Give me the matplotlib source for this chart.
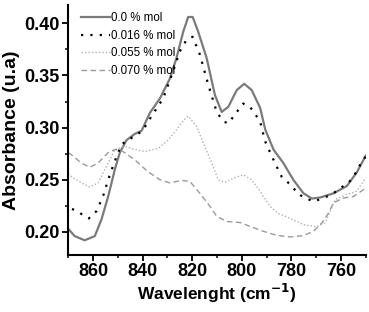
import matplotlib
matplotlib.use("Agg")
import matplotlib.pyplot as plt
from matplotlib.ticker import MultipleLocator

# 0.0 % mol
wl_0 = [870, 867.4, 863.4, 859.3, 856.6, 853.9, 851.2, 849.2, 846.5, 843.1, 840.4,
        837.1, 833, 829, 826.3, 823.6, 821.6, 819.8, 817.6, 814.2, 810.8, 808.1,
        805.4, 802, 799, 796, 792.6, 790.5, 787.2, 783.2, 779.2, 775.1, 771.7,
        768.4, 763, 757.6, 753.6, 750]
abs_0 = [0.203, 0.196, 0.192, 0.196, 0.212, 0.234, 0.260, 0.276, 0.288, 0.294, 0.297,
         0.314, 0.328, 0.347, 0.367, 0.392, 0.406, 0.406, 0.392, 0.367, 0.331, 0.315,
         0.320, 0.336, 0.342, 0.336, 0.319, 0.298, 0.279, 0.266, 0.250, 0.237, 0.232,
         0.233, 0.237, 0.244, 0.257, 0.273]

# 0.016 % mol
wl_016 = [868.5, 867.4, 861.7, 858.6, 856, 853.2, 851.2, 848.5, 845.9, 843.1, 840,
          836.4, 831.7, 827.7, 825, 822.3, 819.8, 816.9, 813.5, 810.1, 807.5, 805.4,
          802, 799.4, 796.7, 792.6, 790.6, 786.6, 783.9, 779.8, 777.1, 773.7, 771.1,
          767.7, 763.6, 760.3, 756.9, 753.6, 751.5, 750]
abs_016 = [0.222, 0.221, 0.213, 0.220, 0.234, 0.255, 0.268, 0.284, 0.288, 0.292, 0.297,
           0.311, 0.328, 0.354, 0.373, 0.384, 0.387, 0.370, 0.341, 0.315, 0.306, 0.304,
           0.315, 0.323, 0.320, 0.306, 0.287, 0.266, 0.253, 0.244, 0.236, 0.232, 0.229,
           0.232, 0.236, 0.242, 0.247, 0.258, 0.268, 0.272]

# 0.055 % mol
wl_055 = [870, 868.7, 864.7, 861.3, 858, 853.9, 851.2, 847.2, 843.1, 839.1, 833.7,
          829.7, 826.3, 823.5, 821.6, 818.2, 815.5, 812.1, 809.5, 806.8, 803.4, 799.4,
          796, 792.6, 788.6, 785.5, 780.5, 775.1, 769.7, 766.3, 764.3, 762.3, 757.6,
          753.6, 750]
abs_055 = [0.256, 0.253, 0.247, 0.243, 0.247, 0.266, 0.279, 0.282, 0.279, 0.277, 0.280,
           0.288, 0.298, 0.307, 0.311, 0.301, 0.285, 0.266, 0.250, 0.2475, 0.2516, 0.2548,
           0.250, 0.239, 0.2245, 0.218, 0.213, 0.207, 0.205, 0.209, 0.220, 0.231, 0.236,
           0.239, 0.252]

# 0.070 % mol
wl_070 = [870, 868.7, 864.7, 861.3, 858, 853.9, 851.2, 847.9, 843.1, 838, 833,
          829, 824.3, 820.9, 816.9, 812.8, 810.1, 806.1, 800.7, 796.7, 791.3, 785.9,
          780.5, 775.1, 771.1, 767.7, 765, 763, 758.9, 754.9, 750.9, 750]
abs_070 = [0.276, 0.274, 0.266, 0.262, 0.266, 0.276, 0.279, 0.277, 0.269, 0.258, 0.250,
           0.247, 0.2494, 0.2484, 0.237, 0.2245, 0.215, 0.210, 0.209, 0.2054, 0.2006, 0.1968,
           0.1952, 0.1965, 0.2006, 0.2086, 0.218, 0.228, 0.2325, 0.234, 0.2405, 0.242]

labels = ["0.0 % mol", "0.016 % mol", "0.055 % mol", "0.070 % mol"]

plt.rcParams['font.family'] = ['Liberation Sans', 'DejaVu Sans']

fig = plt.figure(figsize=(3.69, 3.12), dpi=100)
ax = fig.add_axes([0.185, 0.183, 0.806, 0.801])

ax.plot(wl_0, abs_0, color='#7a7a7a', lw=1.6, label=labels[0])
ax.plot(wl_016, abs_016, color='black', lw=1.6, ls=(0, (1, 3.2)), label=labels[1])
ax.plot(wl_055, abs_055, color='#b0b0b0', lw=1.0, ls=(0, (1, 1.5)), label=labels[2])
ax.plot(wl_070, abs_070, color='#9a9a9a', lw=1.0, ls=(0, (4, 2.5)), label=labels[3])

ax.set_xlim(870, 750)
ax.set_ylim(0.178, 0.4175)
ax.xaxis.set_major_locator(MultipleLocator(20))
ax.xaxis.set_minor_locator(MultipleLocator(10))
ax.yaxis.set_major_locator(MultipleLocator(0.05))
ax.yaxis.set_minor_locator(MultipleLocator(0.025))
ax.yaxis.set_major_formatter(matplotlib.ticker.FormatStrFormatter('%.2f'))

for side in ['top', 'right']:
    ax.spines[side].set_visible(False)
for side in ['left', 'bottom']:
    ax.spines[side].set_linewidth(1.5)

ax.tick_params(which='major', direction='out', length=4, width=1.3, labelsize=13, pad=2)
ax.tick_params(which='minor', direction='out', length=2.5, width=1.1)
for t in ax.get_xticklabels() + ax.get_yticklabels():
    t.set_fontweight('bold')

ax.set_xlabel("Wavelenght (cm$^{\\mathbf{-1}}$)", fontsize=12.5, fontweight='bold', labelpad=1)
ax.set_ylabel("Absorbance (u.a)", fontsize=14, fontweight='bold', labelpad=3)

ax.legend(loc='upper left', bbox_to_anchor=(0.02, 1.0), frameon=False, fontsize=8.3,
          handlelength=2.5, handletextpad=0.1, labelspacing=0.5, borderaxespad=0.2)

fig.savefig("out.png", dpi=100)
